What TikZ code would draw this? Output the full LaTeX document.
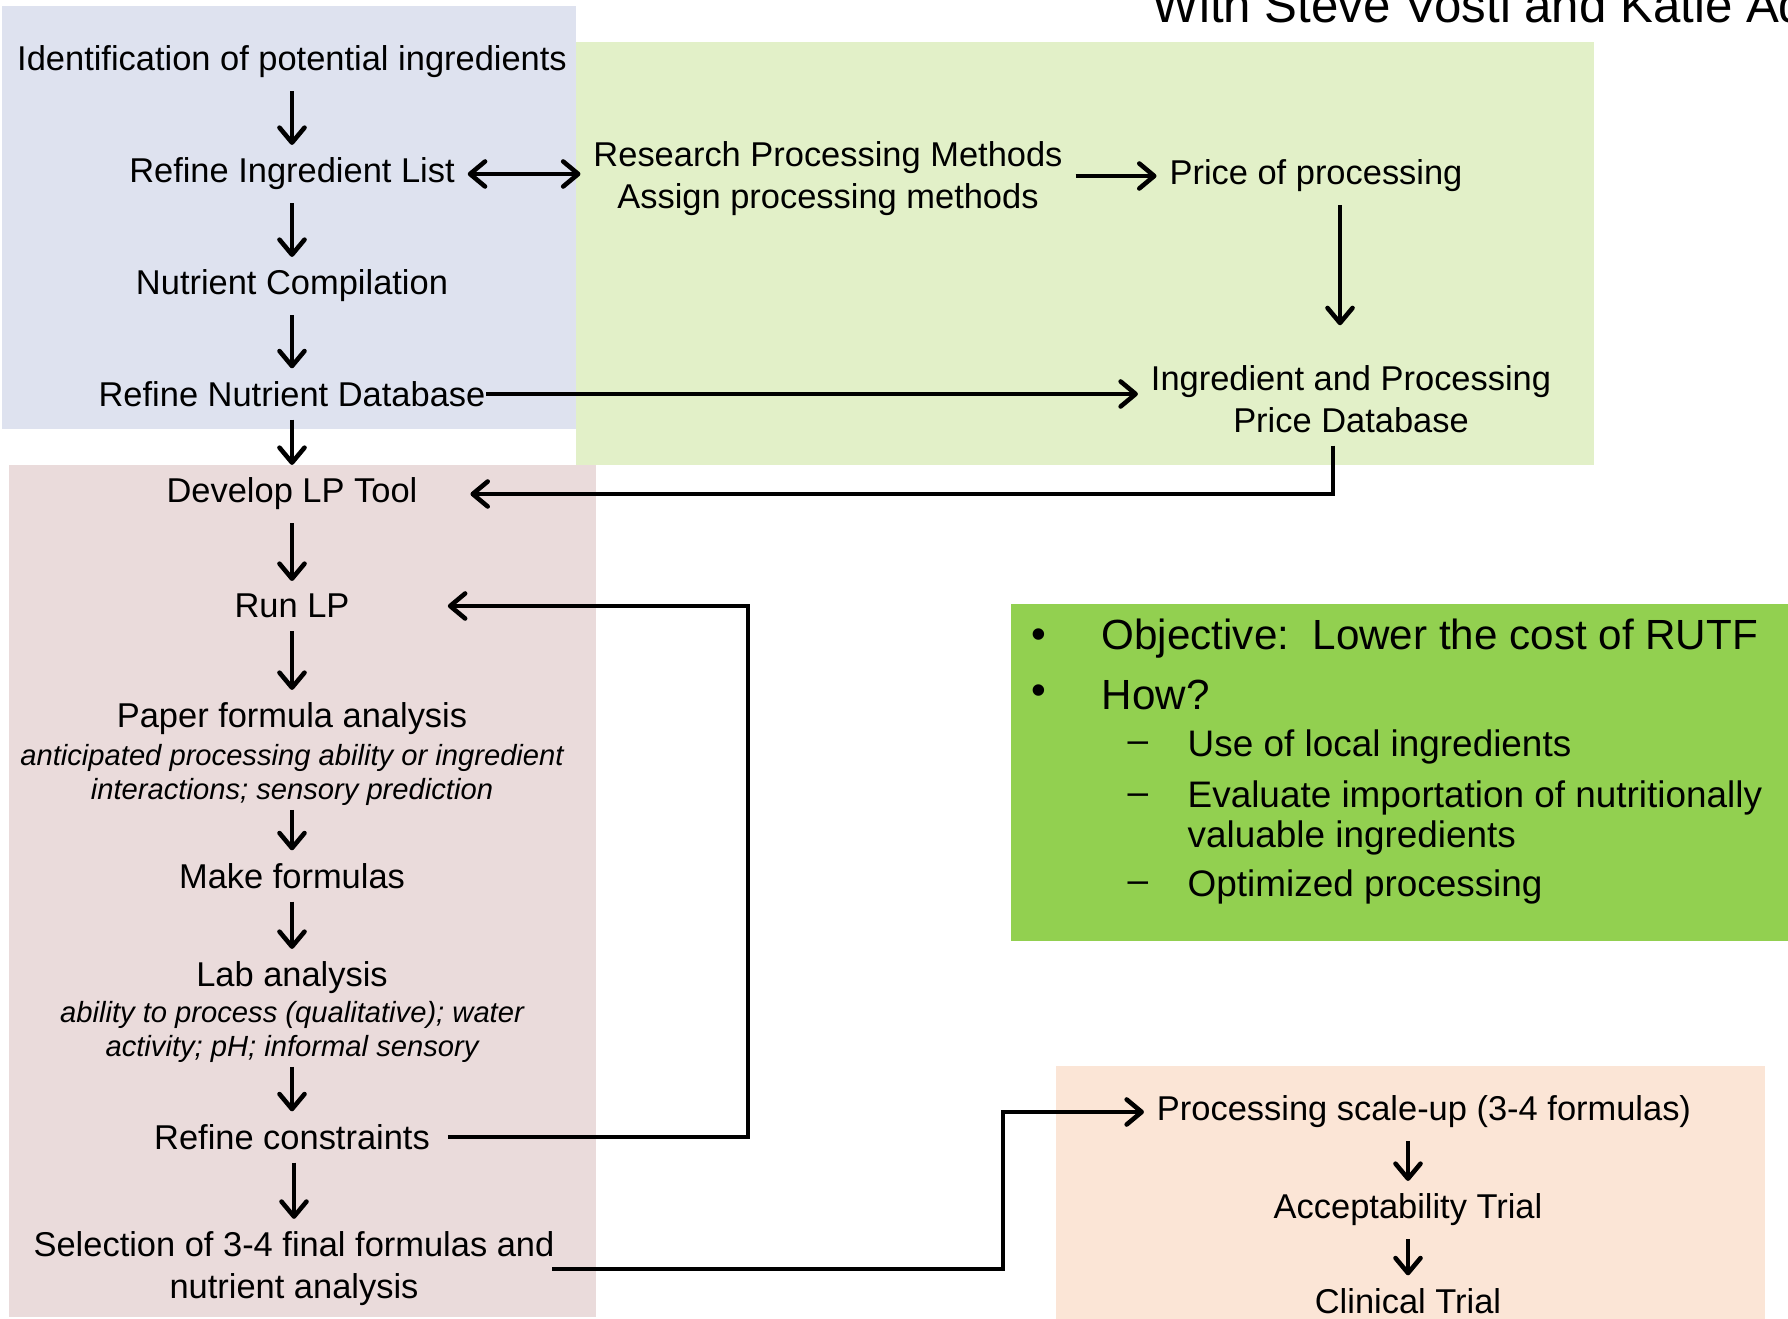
\documentclass[tikz,border=0pt]{standalone}
\usepackage{fontspec}
\setmainfont{Liberation Sans}
\usetikzlibrary{arrows.meta,calc,positioning}
\definecolor{lav}{HTML}{DEE2EF}
\definecolor{sprout}{HTML}{E2F0C8}
\definecolor{blush}{HTML}{EADBDB}
\definecolor{lime}{HTML}{92D050}
\definecolor{apricot}{HTML}{FBE5D6}

\begin{document}
\begin{tikzpicture}[x=0.1mm,y=-0.1mm,
  txt/.style={font=\fontsize{9.8}{12}\selectfont,align=center,inner sep=3.5pt},
  note/.style={font=\fontsize{8.3}{9.7}\selectfont\itshape,align=center,inner sep=1pt},
  big/.style={font=\fontsize{12}{14}\selectfont,anchor=west,inner sep=0pt},
  sub/.style={font=\fontsize{10.5}{11.2}\selectfont,anchor=west,align=left,inner sep=0pt},
  flow/.style={line width=1pt,-{Straight Barb[length=1.5mm,width=2.5mm,line width=1.3pt,round]}},
  flowboth/.style={line width=1pt,{Straight Barb[length=1.5mm,width=2.5mm,line width=1.3pt,round]}-{Straight Barb[length=1.5mm,width=2.5mm,line width=1.3pt,round]}}]
\useasboundingbox (0,0) rectangle (1788,1319);
% panels
\fill[lav] (2,6) rectangle (576,429);
\fill[sprout] (576,42) rectangle (1594,465);
\fill[blush] (9,465) rectangle (596,1317);
\fill[lime] (1011,604) rectangle (1788,941);
\fill[apricot] (1056,1066) rectangle (1765,1319);
\node[font=\fontsize{14}{16}\selectfont,anchor=base west,inner sep=0pt] (credit) at (1152,23) {With Steve Vosti and Katie Ad};
% left column
\node[txt] (ident) at (292,62) {Identification of potential ingredients};
\node[txt] (refing) at (292,174) {Refine Ingredient List};
\node[txt] (nutcomp) at (292,286) {Nutrient Compilation};
\node[txt] (refnut) at (292,394) {Refine Nutrient Database};
\node[txt] (devlp) at (292,494) {Develop LP Tool};
\node[txt] (runlp) at (292,606) {Run LP};
\node[txt] (paper) at (292,719) {Paper formula analysis};
\node[note] (papernote) at (292,775) {anticipated processing ability or ingredient\\interactions; sensory prediction};
\node[txt] (make) at (292,876) {Make formulas};
\node[txt] (lab) at (292,978) {Lab analysis};
\node[note] (labnote) at (292,1032) {ability to process (qualitative); water\\activity; pH; informal sensory};
\node[txt] (refcon) at (292,1137) {Refine constraints};
\node[txt] (select) at (294,1269) {Selection of 3-4 final formulas and\\nutrient analysis};
% processing and prices
\node[txt] (research) at (828,179) {Research Processing Methods\\Assign processing methods};
\node[txt] (price) at (1316,176) {Price of processing};
\node[txt] (pricedb) at (1351,399) {Ingredient and Processing\\Price Database};
% trials
\node[txt] (scaleup) at (1424,1112) {Processing scale-up (3-4 formulas)};
\node[txt] (accept) at (1408,1210) {Acceptability Trial};
\node[txt] (clinical) at (1408,1301) {Clinical Trial};
% objective
\node[big] (dot1) at (1031,639) {•}; \node[big] (objective) at (1101,639) {Objective:\ \ Lower the cost of RUTF};
\node[big] (dot2) at (1031,695) {•}; \node[big] (how) at (1101,695) {How?};
\node[sub] (dash1) at (1127,747) {–}; \node[sub] (local) at (1187,747) {Use of local ingredients};
\node[sub] (dash2) at (1127,799) {–}; \node[sub] (import) at (1187,818) {Evaluate importation of nutritionally\\valuable ingredients};
\node[sub] (dash3) at (1127,887) {–}; \node[sub] (optim) at (1187,887) {Optimized processing};
% connectors
\draw[flow] (ident) -- (refing);
\draw[flow] (refing) -- (nutcomp);
\draw[flow] (nutcomp) -- (refnut);
\draw[flow] (refnut) -- (devlp);
\draw[flow] (devlp) -- (runlp);
\draw[flow] (runlp) -- (paper);
\draw[flow] (papernote) -- (make);
\draw[flow] (make) -- (lab);
\draw[flow] (labnote) -- (refcon);
\draw[flow] (refcon.south -| select.north) -- (select.north);
\draw[flowboth] (refing.east) -- (refing -| research.west);
\draw[flow] (research.east |- price) -- (price.west);
\draw[flow,shorten >=2.7mm] ([xshift=2.4mm]price.south) -- ([xshift=2.4mm]price.south |- pricedb.north);
\draw[flow] ([xshift=-1.2mm]refnut.east) -- (refnut.east -| pricedb.west);
\draw[flow] ([xshift=-1.8mm]pricedb.south) |- ([xshift=4mm]devlp.east);
\coordinate (loopx) at (748,0);
\draw[flow] ([xshift=0.5mm]refcon.east) -| (loopx |- runlp) -- ([xshift=0.5mm]refcon.east |- runlp);
\coordinate (jog) at (1003,0);
\draw[flow] ([xshift=-1.5mm]select.east) -| (jog |- scaleup) -- (scaleup.west);
\draw[flow] (scaleup.south -| accept.north) -- (accept.north);
\draw[flow] (accept) -- (clinical);
\end{tikzpicture}
\end{document}
